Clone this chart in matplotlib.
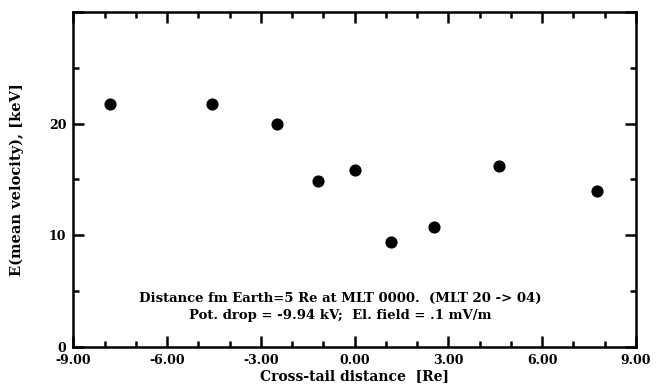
import numpy as np
import matplotlib.pyplot as plt
from matplotlib.ticker import MultipleLocator

#---------------------- DATA
xdist  = [-7.83, -4.57, -2.49, -1.16, 0.01, 1.16, 2.53, 4.62, 7.75]
energy = [21.8, 21.8, 20.0, 14.9, 15.8, 9.4, 10.7, 16.2, 14.0]

xticks = [-9, -6, -3, 0, 3, 6, 9]
xlabs  = ['-9.00', '-6.00', '-3.00', '0.00', '3.00', '6.00', '9.00']
yticks = [0, 10, 20, 30]
ylabs  = ['0', '10', '20', '']

line1 = 'Distance fm Earth=5 Re at MLT 0000.  (MLT 20 -> 04)'
line2 = 'Pot. drop = -9.94 kV;  El. field = .1 mV/m'

##------------------------PLOTTING
plt.rcParams['font.family'] = 'DejaVu Serif'
plt.rcParams['font.weight'] = 'bold'

fig = plt.figure(figsize=(6.63, 3.92), dpi=100)
ax = fig.add_axes([0.1106, 0.1156, 0.8484, 0.8534])

ax.scatter(xdist, energy, s=60, color='black', zorder=3)

ax.set_xlim(-9, 9)
ax.set_ylim(0, 30)

for s in ['top', 'bottom', 'left', 'right']:
    ax.spines[s].set_linewidth(1.8)

ax.set_xticks(xticks)
ax.set_xticklabels(xlabs, fontsize=9, fontweight='bold')
ax.set_yticks(yticks)
ax.set_yticklabels(ylabs, fontsize=9, fontweight='bold')
ax.xaxis.set_minor_locator(MultipleLocator(1))
ax.yaxis.set_minor_locator(MultipleLocator(5))
ax.tick_params(which='both', direction='in', top=True, right=True, width=1.8)
ax.tick_params(which='major', length=8)
ax.tick_params(axis='x', which='major', pad=5)
ax.tick_params(axis='y', which='major', pad=5)
ax.tick_params(which='minor', length=4)

ax.set_xlabel('Cross-tail distance  [Re]', fontsize=10, fontweight='bold', labelpad=2)
ax.set_ylabel('E(mean velocity), [keV]', fontsize=10.5, fontweight='bold', labelpad=18)

ax.text(-0.45, 4.36, line1, ha='center', va='center', fontsize=9.5, fontweight='bold')
ax.text(-0.45, 2.84, line2, ha='center', va='center', fontsize=9.5, fontweight='bold')

plt.savefig('out.png', dpi=100)
